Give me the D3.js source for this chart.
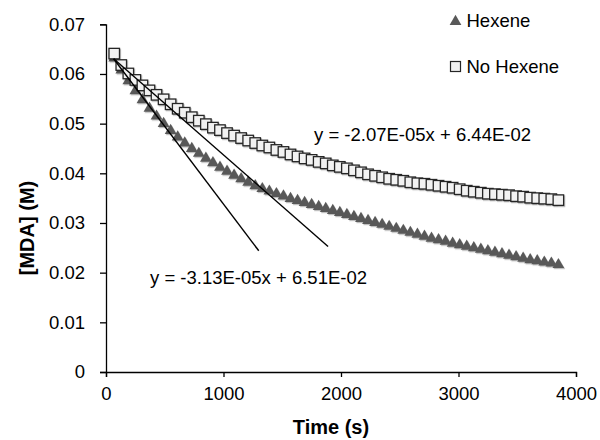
<!DOCTYPE html>
<html>
<head>
<meta charset="utf-8">
<script src="https://cdn.jsdelivr.net/npm/d3@7"></script>
<style>
  html, body { margin: 0; padding: 0; background: #fff; }
  svg { display: block; }
  text { font-family: "Liberation Sans", Arial, sans-serif; fill: #000; }
</style>
</head>
<body>
<svg id="chart" width="600" height="440"></svg>
<script>
// ---- data ----
const times = [70, 130, 190, 250, 310, 370, 430, 490, 550, 610, 670, 730, 790, 850, 910, 970,
  1030, 1090, 1150, 1210, 1270, 1330, 1390, 1450, 1510, 1570, 1630, 1690, 1750, 1810, 1870, 1930,
  1990, 2050, 2110, 2170, 2230, 2290, 2350, 2410, 2470, 2530, 2590, 2650, 2710, 2770, 2830, 2890,
  2950, 3010, 3070, 3130, 3190, 3250, 3310, 3370, 3430, 3490, 3550, 3610, 3670, 3730, 3790, 3850];

const hexene = [0.0632, 0.0608, 0.0586, 0.0566, 0.0548, 0.0531, 0.0515, 0.0500, 0.0486, 0.0473,
  0.0461, 0.0450, 0.0440, 0.0430, 0.0421, 0.0412, 0.0404, 0.0396, 0.0389, 0.0382, 0.0375, 0.0369,
  0.0364, 0.0359, 0.0354, 0.0349, 0.0345, 0.0341, 0.0337, 0.0333, 0.0329, 0.0325, 0.0321, 0.0317,
  0.0313, 0.0309, 0.0305, 0.0301, 0.0297, 0.0293, 0.0289, 0.0285, 0.0281, 0.0277, 0.0273, 0.0269,
  0.0266, 0.0263, 0.0259, 0.0256, 0.0253, 0.0250, 0.0247, 0.0244, 0.0241, 0.0238, 0.0235, 0.0232,
  0.0229, 0.0226, 0.0224, 0.0221, 0.0219, 0.0216];

const noHexene = [0.0641, 0.0618, 0.0601, 0.0588, 0.0577, 0.0567, 0.0558, 0.0549, 0.0539, 0.0530,
  0.0522, 0.0513, 0.0506, 0.0499, 0.0492, 0.0487, 0.0481, 0.0476, 0.0471, 0.0466, 0.0461, 0.0456,
  0.0452, 0.0447, 0.0443, 0.0438, 0.0434, 0.0430, 0.0427, 0.0423, 0.0420, 0.0416, 0.0413, 0.0410,
  0.0406, 0.0402, 0.0398, 0.0395, 0.0392, 0.0389, 0.0387, 0.0385, 0.0382, 0.0380, 0.0379, 0.0377,
  0.0375, 0.0373, 0.0371, 0.0368, 0.0365, 0.0363, 0.0361, 0.0359, 0.0358, 0.0357, 0.0356, 0.0354,
  0.0353, 0.0351, 0.0350, 0.0349, 0.0348, 0.0346];

const seriesNames = ["Hexene", "No Hexene"];
// linear fits: [slope, intercept, tStart, tEnd]
const fitHexene = [-3.13e-5, 6.51e-2, 65, 1300];
const fitNoHexene = [-2.07e-5, 6.44e-2, 65, 1890];
const fitLabels = ["y = -3.13E-05x + 6.51E-02", "y = -2.07E-05x + 6.44E-02"];

const xTicks = [0, 1000, 2000, 3000, 4000];
const yTicks = [0, 0.01, 0.02, 0.03, 0.04, 0.05, 0.06, 0.07];
const yTickLabels = ["0", "0.01", "0.02", "0.03", "0.04", "0.05", "0.06", "0.07"];
const xTitle = "Time (s)";
const yTitle = "[MDA] (M)";

// ---- drawing ----
const svg = d3.select("#chart");
const x = d3.scaleLinear().domain([0, 4000]).range([106, 576]);
const y = d3.scaleLinear().domain([0, 0.07]).range([372, 24.3]);

const defs = svg.append("defs");
const f = defs.append("filter").attr("id", "sh").attr("x", "-50%").attr("y", "-50%")
  .attr("width", "200%").attr("height", "200%");
f.append("feDropShadow").attr("dx", 1).attr("dy", 1.2).attr("stdDeviation", 0.6)
  .attr("flood-color", "#000").attr("flood-opacity", 0.25);

// axes
const fontSize = 18.5;
const yAxis = d3.axisLeft(y).tickValues(yTicks).tickSize(6).tickPadding(15)
  .tickFormat((d, i) => yTickLabels[i]);
const gy = svg.append("g").attr("transform", `translate(${x(0)},0)`).call(yAxis);
gy.selectAll("text").style("font-size", fontSize + "px").attr("fill", "#000");

const xAxis = d3.axisBottom(x).tickValues(xTicks).tickSize(5).tickPadding(9.5)
  .tickFormat(d3.format("d"));
const gx = svg.append("g").attr("transform", `translate(0,${y(0)})`).call(xAxis);
gx.selectAll("text").style("font-size", fontSize + "px").attr("fill", "#000");

[gx, gy].forEach(g => {
  g.select(".domain").attr("stroke", "#000").attr("stroke-width", 1.3);
  g.selectAll(".tick line").attr("stroke", "#000").attr("stroke-width", 1.3);
});

// titles
svg.append("text").attr("x", 331).attr("y", 434).attr("text-anchor", "middle")
  .style("font-size", "20px").style("font-weight", "bold").text(xTitle);
svg.append("text").attr("transform", "translate(34,228) rotate(-90)").attr("text-anchor", "middle")
  .style("font-size", "20px").style("font-weight", "bold").text(yTitle);

// Hexene triangles
const triSize = 60;
const tri = d3.symbol().type(d3.symbolTriangle).size(triSize);
svg.append("g").selectAll("path").data(times.map((t, i) => [t, hexene[i]])).join("path")
  .attr("d", tri)
  .attr("transform", d => `translate(${x(d[0])},${y(d[1])})`)
  .attr("fill", "#595959").attr("filter", "url(#sh)");

// No Hexene squares
const sq = 10.5;
svg.append("g").selectAll("rect").data(times.map((t, i) => [t, noHexene[i]])).join("rect")
  .attr("x", d => x(d[0]) - sq / 2).attr("y", d => y(d[1]) - sq / 2)
  .attr("width", sq).attr("height", sq)
  .attr("fill", "#f2f2f2").attr("stroke", "#262626").attr("stroke-width", 1.3)
  .attr("filter", "url(#sh)");

// trend lines
[fitHexene, fitNoHexene].forEach(fit => {
  const [m, b, t0, t1] = fit;
  svg.append("line")
    .attr("x1", x(t0)).attr("y1", y(m * t0 + b))
    .attr("x2", x(t1)).attr("y2", y(m * t1 + b))
    .attr("stroke", "#000").attr("stroke-width", 1.4);
});

// fit labels
svg.append("text").attr("x", 150).attr("y", 283.5).style("font-size", fontSize + "px").text(fitLabels[0]);
svg.append("text").attr("x", 314).attr("y", 140.5).style("font-size", fontSize + "px").text(fitLabels[1]);

// legend
const lg = svg.append("g");
lg.append("path").attr("d", d3.symbol().type(d3.symbolTriangle).size(60))
  .attr("transform", "translate(455.5,21.5)").attr("fill", "#595959");
lg.append("text").attr("x", 466.5).attr("y", 26.5).style("font-size", fontSize + "px").text(seriesNames[0]);
lg.append("rect").attr("x", 450.5).attr("y", 61.5).attr("width", 10).attr("height", 10)
  .attr("fill", "#f2f2f2").attr("stroke", "#262626").attr("stroke-width", 1.2);
lg.append("text").attr("x", 466.5).attr("y", 72.5).style("font-size", fontSize + "px").text(seriesNames[1]);
</script>
</body>
</html>
